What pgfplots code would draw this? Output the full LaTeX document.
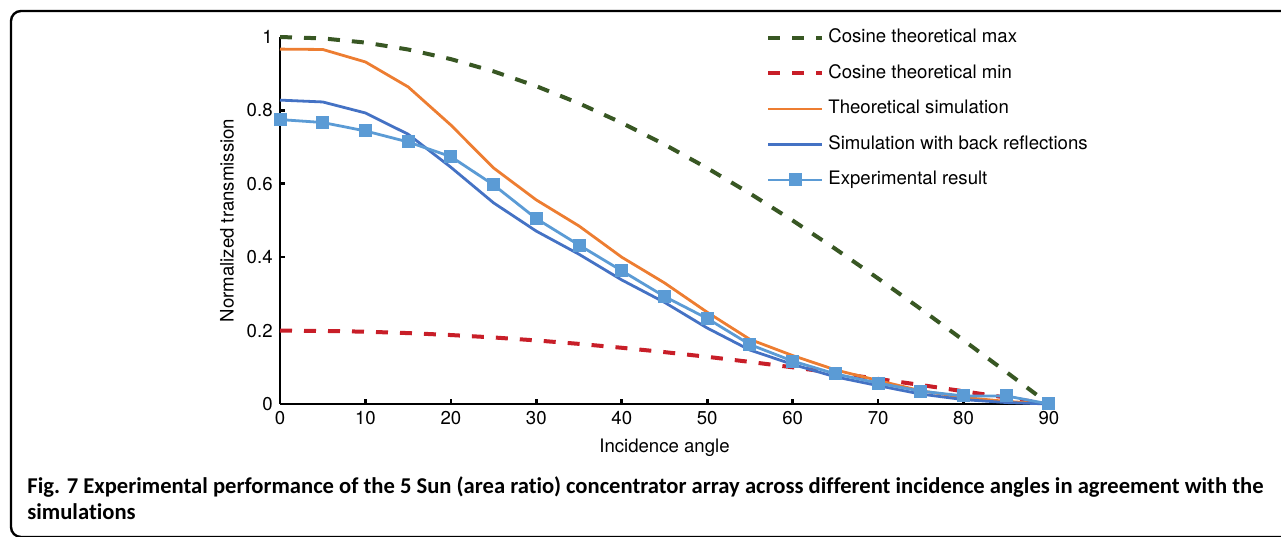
\documentclass[border=0pt]{standalone}
\usepackage{pgfplots}
\pgfplotsset{compat=1.18}
\usepackage{fontspec}
\setmainfont{TeX Gyre Heros}
\newfontfamily\capfont[Ligatures=NoCommon]{Carlito}
\definecolor{cmax}{RGB}{56,87,35}
\definecolor{cmin}{RGB}{200,30,40}
\definecolor{corange}{RGB}{237,125,49}
\definecolor{cdblue}{RGB}{68,114,196}
\definecolor{clblue}{RGB}{91,155,213}
\newcommand\chartfont{\fontsize{9.3}{11}\selectfont}
\begin{document}
\begin{tikzpicture}
\useasboundingbox (0,0) rectangle (640.5pt,268pt);
\draw[line width=1.2pt, rounded corners=5pt] (700pt,-0.5pt) -- (5.5pt,-0.5pt) -- (5.5pt,262.5pt) -- (700pt,262.5pt);
\begin{axis}[
  at={(140pt,66pt)}, anchor=south west,
  scale only axis, width=384.5pt, height=183.5pt,
  xmin=0, xmax=90, ymin=0, ymax=1,
  axis lines=left, axis line style={line width=1.3pt, -},
  xtick={0,10,...,90}, ytick={0,0.2,0.4,0.6,0.8,1},
  tick style={line width=1.3pt, black}, major tick length=2.5pt,
  tick align=inside,
  /pgf/number format/assume math mode=true,
  ticklabel style={font=\chartfont},
  yticklabel style={inner xsep=3.5pt},
  xticklabel style={inner ysep=3.5pt},
  label style={font=\chartfont},
  xlabel={Incidence angle},
  ylabel={Normalized transmission},
  xlabel style={at={(axis description cs:0.5,-0.1308)}, anchor=base},
  ylabel style={at={(axis description cs:-0.069,0.5)}, anchor=center},
  clip=false,
  legend style={at={(axis description cs:0.632,1.0226)}, anchor=north west,
    draw=none, fill=none, inner sep=0pt, font=\chartfont,
    row sep=8.95pt,
    nodes={inner sep=0pt, text height=6.8pt, text depth=2pt},
    /tikz/every odd column/.append style={column sep=2pt}},
  legend cell align=left,
  legend image code/.code={\draw[mark repeat=2,mark phase=2,#1] plot coordinates {(0pt,0pt) (13.5pt,0pt) (27pt,0pt)};},
]
\addplot[cmax, line width=2pt, dash pattern=on 6pt off 6pt] coordinates {
(0,1) (5,0.9962) (10,0.9848) (15,0.9659) (20,0.9397) (25,0.9063) (30,0.8660) (35,0.8192) (40,0.7660) (45,0.7071) (50,0.6428) (55,0.5736) (60,0.5) (65,0.4226) (70,0.3420) (75,0.2588) (80,0.1736) (85,0.0872) (90,0)};
\addlegendentry{Cosine theoretical max}
\addplot[cmin, line width=2pt, dash pattern=on 6pt off 6pt] coordinates {
(0,0.2) (5,0.1992) (10,0.1970) (15,0.1932) (20,0.1879) (25,0.1813) (30,0.1732) (35,0.1638) (40,0.1532) (45,0.1414) (50,0.1286) (55,0.1147) (60,0.1) (65,0.0845) (70,0.0684) (75,0.0518) (80,0.0347) (85,0.0174) (90,0)};
\addlegendentry{Cosine theoretical min}
\addplot[corange, line width=1.4pt] coordinates {
(0,0.967) (5,0.966) (10,0.932) (15,0.864) (20,0.760) (25,0.643) (30,0.556) (35,0.485) (40,0.400) (45,0.330) (50,0.250) (55,0.176) (60,0.132) (65,0.093) (70,0.064) (75,0.036) (80,0.018) (85,0.007) (90,0)};
\addlegendentry{Theoretical simulation}
\addplot[cdblue, line width=1.4pt] coordinates {
(0,0.828) (5,0.823) (10,0.793) (15,0.735) (20,0.645) (25,0.548) (30,0.471) (35,0.408) (40,0.338) (45,0.277) (50,0.207) (55,0.147) (60,0.108) (65,0.074) (70,0.050) (75,0.027) (80,0.012) (85,0.004) (90,0)};
\addlegendentry{Simulation with back reflections}
\addplot[clblue, line width=1.4pt, mark=square*, mark size=3pt, mark options={solid, fill=clblue, draw=clblue, line width=0pt}] coordinates {
(0,0.775) (5,0.767) (10,0.744) (15,0.714) (20,0.674) (25,0.597) (30,0.505) (35,0.433) (40,0.363) (45,0.293) (50,0.233) (55,0.162) (60,0.117) (65,0.082) (70,0.057) (75,0.035) (80,0.022) (85,0.022) (90,0)};
\addlegendentry{Experimental result}
\end{axis}
\node[anchor=base west, inner sep=0pt, font=\capfont\bfseries\fontsize{11.3}{13}\selectfont] at (13.5pt,21pt) {Fig. 7 Experimental performance of the 5 Sun (area ratio) concentrator array across different incidence angles in agreement with the};
\node[anchor=base west, inner sep=0pt, font=\capfont\bfseries\fontsize{11.3}{13}\selectfont] at (13.5pt,8.5pt) {simulations};
\end{tikzpicture}
\end{document}
